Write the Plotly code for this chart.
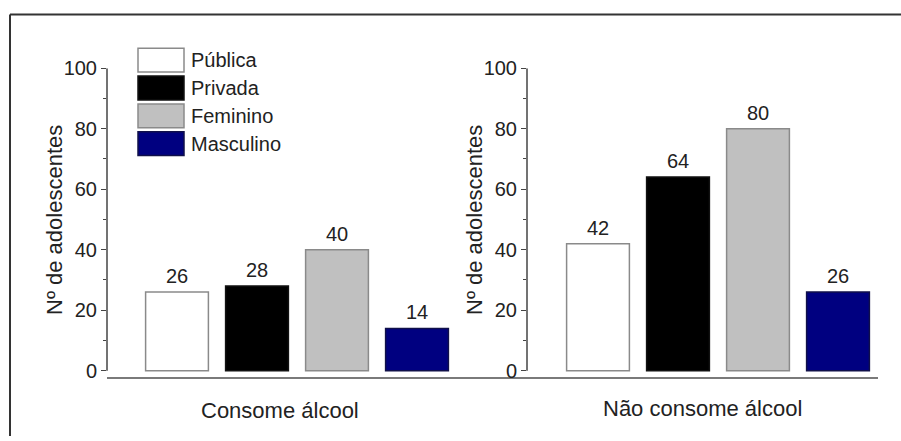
import plotly.graph_objects as go

# ---- data ----
series = ["Pública", "Privada", "Feminino", "Masculino"]
consome = [26, 28, 40, 14]
nao_consome = [42, 64, 80, 26]
groups = ["Consome álcool", "Não consome álcool"]
y_title = "Nº de adolescentes"
y_ticks = [0, 20, 40, 60, 80, 100]

# ---- styles ----
fill_colors = ["#ffffff", "#000000", "#c0c0c0", "#000080"]
edge_colors = ["#8a8a8a", "#111111", "#8a8a8a", "#10104a"]
FONT = "Arial, Liberation Sans, sans-serif"
TXT = "#222222"
W, H = 901, 441
VS, VOFF = 0.971, 9.7   # vertical correction for how the page gets photographed


def px(x):
    return x / W


def py(y):
    yf = y / VS - VOFF
    return 1 - yf / H


fig = go.Figure()
for vals, xa, ya in [(consome, "x", "y"), (nao_consome, "x2", "y2")]:
    fig.add_trace(go.Bar(
        x=series, y=vals, xaxis=xa, yaxis=ya, width=0.785,
        marker=dict(color=fill_colors, line=dict(color=edge_colors, width=1.5)),
        showlegend=False, hoverinfo="x+y",
    ))
    for s, v in zip(series, vals):
        fig.add_annotation(x=s, y=v, xref=xa, yref=ya, text=str(v), showarrow=False,
                           xanchor="center", yanchor="bottom", yshift=3,
                           font=dict(family=FONT, size=20, color=TXT))

ydom = [py(378), py(67)]
yaxis_common = dict(
    range=[-2, 100], tickvals=y_ticks, ticks="outside", ticklen=5, tickwidth=1.3,
    tickcolor="#444", showline=False, showgrid=False, zeroline=False,
    minor=dict(dtick=10, ticks="outside", ticklen=3, tickcolor="#444", tickwidth=1.3),
    tickfont=dict(family=FONT, size=20, color=TXT), domain=ydom, fixedrange=True,
)
xaxis_common = dict(showline=True, linecolor="#7a7a7a", linewidth=1.6, showticklabels=False,
                    ticks="", showgrid=False, zeroline=False, type="category", fixedrange=True)

fig.update_layout(
    width=W, height=H, margin=dict(l=0, r=0, t=0, b=0),
    paper_bgcolor="white", plot_bgcolor="white",
    xaxis=dict(**xaxis_common, domain=[px(107), px(527)], range=[-0.875, 4.375], anchor="y"),
    xaxis2=dict(**xaxis_common, domain=[px(527), px(878)], range=[-0.8875, 3.5], anchor="y2"),
    yaxis=dict(**yaxis_common, anchor="x"),
    yaxis2=dict(**yaxis_common, anchor="x2"),
)

# y axis lines spanning 0..100
for xd, yr in [("x domain", "y"), ("x2 domain", "y2")]:
    fig.add_shape(type="line", xref=xd, yref=yr, x0=0, x1=0, y0=0, y1=100,
                  line=dict(color="#444", width=1.5))

# y titles
for xpos in [54, 474]:
    fig.add_annotation(x=px(xpos), y=py(220), xref="paper", yref="paper", text=y_title,
                       textangle=-90, showarrow=False, xanchor="center", yanchor="middle",
                       font=dict(family=FONT, size=22, color=TXT))

# x group titles
for g, xpos, ypos in zip(groups, [280, 702], [412, 410]):
    fig.add_annotation(x=px(xpos), y=py(ypos), xref="paper", yref="paper", text=g,
                       showarrow=False, xanchor="center", yanchor="middle",
                       font=dict(family=FONT, size=22, color=TXT))

# legend (drawn to match the large swatches of the original)
for i, (name, fc, ec) in enumerate(zip(series, fill_colors, edge_colors)):
    top = 47 + 28 * i
    fig.add_shape(type="rect", xref="paper", yref="paper",
                  x0=px(138), x1=px(184), y0=py(top), y1=py(top + 24),
                  fillcolor=fc, line=dict(color=ec, width=1.5))
    fig.add_annotation(x=px(189), y=py(top + 12), xref="paper", yref="paper", text=name,
                       xanchor="left", yanchor="middle", showarrow=False,
                       font=dict(family=FONT, size=20, color=TXT))

# frame lines (top and left)
fig.add_shape(type="line", xref="paper", yref="paper", x0=px(10), x1=1, y0=py(13), y1=py(13),
              line=dict(color="#333", width=2))
fig.add_shape(type="line", xref="paper", yref="paper", x0=px(10), x1=px(10), y0=py(13), y1=0,
              line=dict(color="#333", width=2))

post = (
    "document.documentElement.style.margin='0';"
    "document.documentElement.style.padding='0';"
    "document.documentElement.style.overflow='hidden';"
    "document.body.style.margin='0';"
    "document.body.style.padding='0';"
    "document.body.style.overflow='hidden';"
    "var gd=document.querySelector('.plotly-graph-div');"
    "gd.style.position='fixed';gd.style.top='0px';gd.style.left='0px';"
)
fig.write_html("out.html", post_script=post, config={"displayModeBar": False})
